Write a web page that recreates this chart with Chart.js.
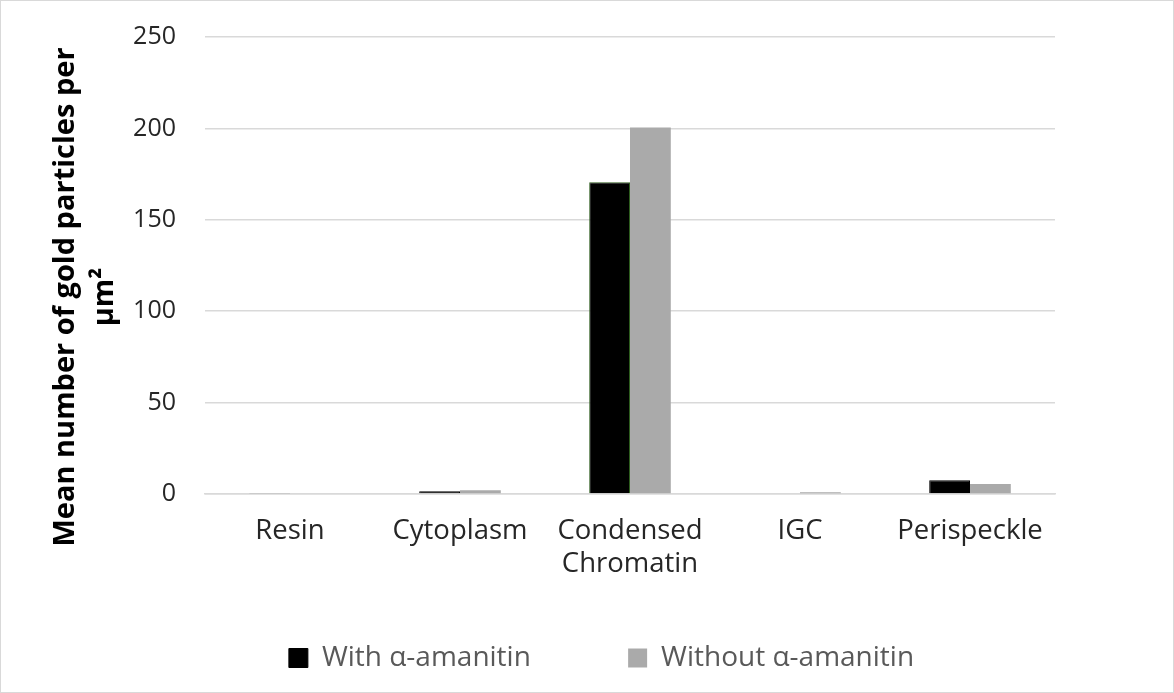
<!DOCTYPE html>
<html>
<head>
<meta charset="utf-8">
<script src="https://cdn.jsdelivr.net/npm/chart.js@4.4.0/dist/chart.umd.min.js"></script>
<style>
  html, body { margin: 0; padding: 0; background: #fff; }
  .frame { position: relative; width: 1172px; height: 691px; border: 1px solid #d9d9d9; }
  canvas { display: block; }
</style>
</head>
<body>
<div class="frame">
  <canvas id="goldChart" width="1172" height="691"></canvas>
</div>
<script>
// data
const categories = ['Resin', 'Cytoplasm', ['Condensed', 'Chromatin'], 'IGC', 'Perispeckle'];
const withAmanitin = [0.5, 1.5, 170.5, 0, 7.5];
const withoutAmanitin = [0, 2, 200.5, 1, 5.5];
const yTicks = [0, 50, 100, 150, 200, 250];
const yTitle = ['Mean number of gold particles per', 'µm²'];

const fontFam = "'Open Sans', 'Liberation Sans', sans-serif";

// y axis title drawn by hand so it can sit where the original has it
const yTitlePlugin = {
  id: 'yTitle',
  afterDraw(chart) {
    const c = chart.ctx;
    c.save();
    c.font = 'bold 29px ' + fontFam;
    c.fillStyle = '#000';
    c.textAlign = 'center';
    c.textBaseline = 'middle';
    c.translate(65, 296);
    c.rotate(-Math.PI / 2);
    c.fillText(yTitle[0], 0, 0);
    c.fillText(yTitle[1], 0, 39);
    c.restore();
  }
};

const ctx = document.getElementById('goldChart');
new Chart(ctx, {
  type: 'bar',
  data: {
    labels: categories,
    datasets: [
      {
        label: 'With α-amanitin',
        data: withAmanitin,
        backgroundColor: '#000000',
        borderColor: ['#000', '#000', '#2e5d1e', '#000', '#000'],
        borderWidth: 1,
        categoryPercentage: 0.48,
        barPercentage: 1
      },
      {
        label: 'Without α-amanitin',
        data: withoutAmanitin,
        backgroundColor: '#aaaaaa',
        borderWidth: 0,
        categoryPercentage: 0.48,
        barPercentage: 1
      }
    ]
  },
  plugins: [yTitlePlugin],
  options: {
    responsive: false,
    animation: false,
    layout: { padding: { left: 0, right: 118, top: 36, bottom: 10 } },
    plugins: {
      legend: {
        position: 'bottom',
        align: 'end',
        labels: {
          font: { family: fontFam, size: 28 },
          color: '#595959',
          boxWidth: 19,
          boxHeight: 19,
          padding: 10,
          // spaces: gap between entries, and trailing room so the legend sits where the original has it
          generateLabels: (chart) => {
            const items = Chart.defaults.plugins.legend.labels.generateLabels(chart);
            items[0].text = items[0].text + ' '.repeat(12);
            items[1].text = items[1].text + ' '.repeat(18);
            return items;
          }
        }
      },
      tooltip: { enabled: false }
    },
    scales: {
      x: {
        grid: { display: false, drawTicks: false },
        border: { color: '#d9d9d9', width: 1.5 },
        ticks: {
          font: { family: fontFam, size: 27.5, lineHeight: 1.18 },
          color: '#262626',
          padding: 21,
          maxRotation: 0
        },
        afterFit: (scale) => { scale.height = 140; }
      },
      y: {
        min: 0,
        max: 250,
        afterBuildTicks: (scale) => { scale.ticks = yTicks.map(v => ({ value: v })); },
        grid: { color: '#d9d9d9', lineWidth: 1.5, drawTicks: false },
        border: { display: false },
        ticks: {
          font: { family: fontFam, size: 25 },
          color: '#262626',
          padding: 29
        },
        afterFit: (scale) => {
          scale.width = 204;
          scale.paddingTop = 0;
          scale.paddingBottom = 0;
        }
      }
    }
  }
});
</script>
</body>
</html>
